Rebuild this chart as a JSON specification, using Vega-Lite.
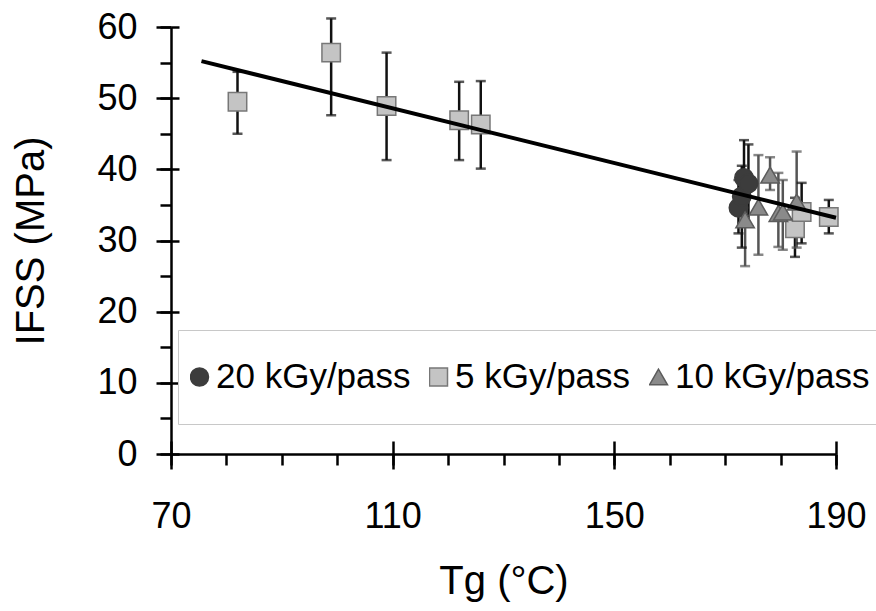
{
  "$schema": "https://vega.github.io/schema/vega-lite/v6.json",
  "width": 665,
  "height": 427,
  "autosize": {"type": "none"},
  "padding": {"left": 171, "top": 27, "right": 40, "bottom": 157},
  "background": "white",
  "config": {
    "view": {"stroke": null},
    "font": "Liberation Sans",
    "axis": {
      "domainColor": "black", "tickColor": "black", "domainWidth": 2.5, "tickWidth": 2.5,
      "labelFont": "Liberation Sans", "titleFont": "Liberation Sans",
      "labelFontSize": 36, "titleFontSize": 40, "titleFontWeight": "normal",
      "labelColor": "black", "titleColor": "black", "grid": false
    },
    "legend": {
      "orient": "none", "legendX": 7, "legendY": 303, "direction": "horizontal",
      "strokeColor": "#c8c8c8", "fillColor": "white", "padding": 12, "clipHeight": 70,
      "symbolSize": 324, "labelFont": "Liberation Sans", "labelFontSize": 35, "labelColor": "black",
      "symbolOffset": -8, "labelOffset": -1, "columnPadding": 18, "symbolStrokeWidth": 1.5, "labelLimit": 400
    }
  },
  "datasets": {
    "points": [
      {"series": "20 kGy/pass", "Tg": 172.4, "IFSS": 34.6, "lo": 31.0, "hi": 38.5},
      {"series": "20 kGy/pass", "Tg": 173.0, "IFSS": 36.2, "lo": 29.0, "hi": 40.5},
      {"series": "20 kGy/pass", "Tg": 173.4, "IFSS": 38.8, "lo": 33.5, "hi": 44.1},
      {"series": "20 kGy/pass", "Tg": 174.2, "IFSS": 38.0, "lo": 32.0, "hi": 43.5},
      {"series": "5 kGy/pass", "Tg": 82.0, "IFSS": 49.5, "lo": 45.0, "hi": 53.7},
      {"series": "5 kGy/pass", "Tg": 98.9, "IFSS": 56.4, "lo": 47.6, "hi": 61.2},
      {"series": "5 kGy/pass", "Tg": 108.9, "IFSS": 48.9, "lo": 41.3, "hi": 56.4},
      {"series": "5 kGy/pass", "Tg": 122.0, "IFSS": 46.9, "lo": 41.3, "hi": 52.3},
      {"series": "5 kGy/pass", "Tg": 125.9, "IFSS": 46.3, "lo": 40.1, "hi": 52.4},
      {"series": "5 kGy/pass", "Tg": 182.6, "IFSS": 31.7, "lo": 27.7, "hi": 36.0},
      {"series": "5 kGy/pass", "Tg": 183.8, "IFSS": 34.0, "lo": 29.6, "hi": 38.1},
      {"series": "5 kGy/pass", "Tg": 188.7, "IFSS": 33.3, "lo": 31.0, "hi": 35.7},
      {"series": "10 kGy/pass", "Tg": 173.6, "IFSS": 32.9, "lo": 26.4, "hi": 36.5},
      {"series": "10 kGy/pass", "Tg": 176.0, "IFSS": 34.7, "lo": 28.0, "hi": 42.0},
      {"series": "10 kGy/pass", "Tg": 178.1, "IFSS": 39.2, "lo": 37.1, "hi": 41.7},
      {"series": "10 kGy/pass", "Tg": 179.6, "IFSS": 33.8, "lo": 29.1, "hi": 39.5},
      {"series": "10 kGy/pass", "Tg": 180.4, "IFSS": 34.0, "lo": 28.7, "hi": 38.5},
      {"series": "10 kGy/pass", "Tg": 182.9, "IFSS": 35.4, "lo": 29.0, "hi": 42.5}
    ],
    "trend": [
      {"Tg": 75.5, "IFSS": 55.2},
      {"Tg": 190, "IFSS": 33.2}
    ]
  },
  "layer": [
    {
      "data": {"name": "points"},
      "mark": {"type": "rule", "strokeWidth": 2.5},
      "encoding": {
        "x": {"field": "Tg", "type": "quantitative",
          "scale": {"domain": [70, 190], "nice": false, "zero": false},
          "axis": {"orient": "bottom", "values": [70, 110, 150, 190], "tickSize": 15, "labelPadding": 30,
            "title": "Tg (°C)", "titlePadding": 27, "labelFlush": false, "labelOverlap": false}},
        "y": {"field": "lo", "type": "quantitative",
          "scale": {"domain": [0, 60], "nice": false},
          "axis": {"orient": "left", "values": [0, 10, 20, 30, 40, 50, 60], "tickSize": 15, "labelPadding": 19,
            "title": "IFSS (MPa)", "titlePadding": 45, "labelFlush": false, "labelOverlap": false}},
        "y2": {"field": "hi"},
        "color": {"field": "series", "type": "nominal",
          "scale": {"domain": ["5 kGy/pass", "10 kGy/pass", "20 kGy/pass"], "range": ["#111111", "#555555", "#111111"]},
          "legend": null}
      }
    },
    {
      "data": {"name": "points"},
      "mark": {"type": "tick", "orient": "horizontal", "size": 10, "thickness": 2.5},
      "encoding": {
        "x": {"field": "Tg", "type": "quantitative",
          "axis": {"orient": "bottom", "values": [70, 80, 90, 100, 110, 120, 130, 140, 150, 160, 170, 180, 190],
            "tickSize": 11, "labels": false, "domain": false, "title": null}},
        "y": {"field": "lo", "type": "quantitative",
          "axis": {"orient": "left", "values": [0, 5, 10, 15, 20, 25, 30, 35, 40, 45, 50, 55, 60],
            "tickSize": 11, "labels": false, "domain": false, "title": null}},
        "color": {"field": "series", "type": "nominal", "legend": null}
      }
    },
    {
      "data": {"name": "points"},
      "mark": {"type": "tick", "orient": "horizontal", "size": 10, "thickness": 2.5},
      "encoding": {
        "x": {"field": "Tg", "type": "quantitative",
          "axis": {"orient": "bottom", "values": [70, 110, 150, 190],
            "tickSize": -13, "labels": false, "domain": false, "title": null}},
        "y": {"field": "hi", "type": "quantitative",
          "axis": {"orient": "left", "values": [0, 10, 20, 30, 40, 50, 60],
            "tickSize": -8, "labels": false, "domain": false, "title": null}},
        "color": {"field": "series", "type": "nominal", "legend": null}
      }
    },
    {
      "data": {"name": "points"},
      "mark": {"type": "point", "filled": true, "size": 340, "strokeWidth": 1.5, "opacity": 1},
      "encoding": {
        "x": {"field": "Tg", "type": "quantitative", "axis": null},
        "y": {"field": "IFSS", "type": "quantitative", "axis": null},
        "shape": {"field": "series", "type": "nominal",
          "scale": {"domain": ["20 kGy/pass", "5 kGy/pass", "10 kGy/pass"], "range": ["circle", "square", "triangle-up"]},
          "legend": {"title": null}},
        "fill": {"field": "series", "type": "nominal",
          "scale": {"domain": ["20 kGy/pass", "5 kGy/pass", "10 kGy/pass"], "range": ["#3c3c3c", "#c4c4c4", "#8a8a8a"]},
          "legend": {"title": null}},
        "stroke": {"field": "series", "type": "nominal",
          "scale": {"domain": ["20 kGy/pass", "5 kGy/pass", "10 kGy/pass"], "range": ["#3c3c3c", "#777777", "#5c5c5c"]},
          "legend": {"title": null}}
      }
    },
    {
      "data": {"name": "trend"},
      "mark": {"type": "line", "color": "black", "strokeWidth": 4},
      "encoding": {
        "x": {"field": "Tg", "type": "quantitative", "axis": null},
        "y": {"field": "IFSS", "type": "quantitative", "axis": null}
      }
    }
  ],
  "resolve": {"axis": {"x": "independent", "y": "independent"}}
}
